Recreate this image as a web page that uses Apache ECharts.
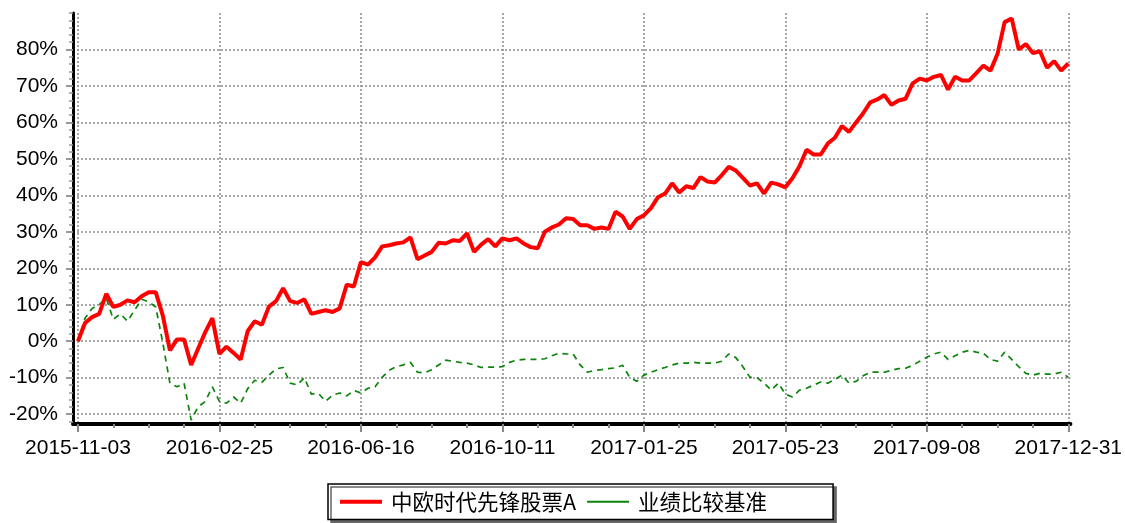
<!DOCTYPE html>
<html>
<head>
<meta charset="utf-8">
<script src="https://cdn.jsdelivr.net/npm/echarts@6/dist/echarts.min.js"></script>
<style>
html,body{margin:0;padding:0;background:#fff;}
#main{width:1125px;height:523px;}
</style>
</head>
<body>
<div id="main"></div>
<script>
// 坐标轴标签
var dateLabels = ['2015-11-03','2016-02-25','2016-06-16','2016-10-11','2017-01-25','2017-05-23','2017-09-08','2017-12-31'];
var yTicks = [-20,-10,0,10,20,30,40,50,60,70,80];

var fundName = '中欧时代先锋股票A';
var benchName = '业绩比较基准';

// 累计收益率(%)
var fundData = [
    0,5,6.6,7.5,13,9.4,10,11.2,10.7,12.3,
    13.4,13.4,7,-2.5,0.5,0.5,-6.5,-2,2.5,6.3,
    -3.5,-1.5,-3.2,-5,2.8,5.5,4.5,9.5,11,14.5,
    11,10.5,11.5,7.5,8,8.5,8,9,15.5,15,
    21.7,21,23,26,26.3,26.8,27.1,28.5,22.5,23.5,
    24.5,27,26.8,27.7,27.5,29.6,24.5,26.5,28,26,
    28.2,27.7,28.2,26.8,25.8,25.5,30,31.2,32,33.7,
    33.5,31.8,31.8,30.8,31.2,30.8,35.5,34.2,30.8,33.5,
    34.5,36.5,39.5,40.5,43.3,40.8,42.5,42,45,43.8,
    43.5,45.5,47.8,46.8,44.8,42.7,43.3,40.5,43.5,43,
    42.2,44.7,48,52.5,51.2,51.2,54.2,55.8,59,57.4,
    60,62.5,65.5,66.3,67.5,64.8,66,66.5,70.7,72,
    71.5,72.5,73,69,72.5,71.5,71.5,73.5,75.6,74.2,
    78.8,87.5,88.5,80,81.5,79,79.5,75,76.8,74.2,
    76.2
];
var benchData = [
    0,6.3,9,10,11.8,6,7.5,5.5,8.5,11.5,
    10.8,9.4,-0.5,-11.5,-12.5,-11.5,-21.6,-18,-16.5,-12.5,
    -16.5,-17,-15.3,-17,-13,-10.7,-11.3,-9.3,-7.6,-7.2,
    -11.5,-12,-10,-14.5,-14.3,-16.5,-14.8,-14.2,-15,-13.5,
    -14.2,-12.9,-12.5,-9.9,-8,-7,-6.5,-5.8,-8.5,-8.7,
    -7.8,-6.5,-5.2,-5.5,-5.8,-6,-6.5,-7.2,-7.1,-7.1,
    -7,-5.8,-5.2,-5,-5,-5,-4.8,-4,-3.3,-3.5,
    -3.5,-6.5,-8.5,-8,-7.8,-7.5,-7.3,-6.6,-9.9,-11,
    -9.3,-8.5,-7.8,-7.2,-6.5,-6,-6,-5.8,-6,-6,
    -6,-5.5,-3.5,-4.5,-7,-9.9,-10,-11.5,-13.4,-11.5,
    -14.5,-15.3,-13.4,-12.9,-12,-11.2,-11.5,-10.5,-9.3,-11.5,
    -11,-9.5,-8.5,-8.5,-8.5,-8,-7.5,-7.4,-6.6,-5.5,
    -4.4,-3.5,-3,-5,-4,-3,-2.5,-3,-3.3,-5,
    -5.5,-3,-5,-7,-8.8,-9.3,-8.8,-9,-9,-8.5,
    -9.9
];

var step = (fundData.length - 1) / (dateLabels.length - 1);
var xMajor = dateLabels.map(function (d, i) { return i * step; });
var xMinor = [];
for (var k = 0; k <= fundData.length - 1; k += step / 4) { xMinor.push(k); }
var yMinor = [];
for (var m = -22; m <= 90; m += 2) { yMinor.push(m); }

var myChart = echarts.init(document.getElementById('main'));
var axisFont = { fontSize: 21, color: '#000', fontFamily: '"Liberation Sans", Arial, sans-serif' };
var dotted = { color: '#8c8c8c', width: 1.5, type: [2, 2] };

option = {
    animation: false,
    backgroundColor: '#fff',
    grid: { left: 73, right: 54, top: 13, bottom: 99 },
    legend: {
        left: 328,
        top: 484,
        padding: [7, 66, 7, 10],
        itemWidth: 42,
        itemHeight: 16,
        itemGap: 10,
        borderColor: '#000',
        borderWidth: 1.5,
        borderRadius: 0,
        backgroundColor: '#fff',
        shadowColor: '#666',
        shadowOffsetX: 3,
        shadowOffsetY: 3,
        shadowBlur: 0,
        itemStyle: { opacity: 0 },
        lineStyle: { type: 'solid' },
        textStyle: { fontSize: 21.5, color: '#000', padding: [0, 0, 0, 4], fontFamily: '"Noto Sans CJK SC", sans-serif' },
        data: [
            { name: fundName, lineStyle: { width: 4 } },
            { name: benchName, lineStyle: { type: 'solid', width: 2 } }
        ]
    },
    xAxis: [
        {
            type: 'value',
            min: -0.7,
            max: 140.3,
            axisLine: { onZero: false, lineStyle: { color: '#000', width: 4 } },
            axisTick: { customValues: xMajor, length: 8, lineStyle: { color: '#888', width: 2 } },
            axisLabel: {
                customValues: xMajor,
                margin: 14,
                formatter: function (v) { return dateLabels[Math.round(v / step)]; },
                fontSize: axisFont.fontSize, color: axisFont.color, fontFamily: axisFont.fontFamily
            },
            splitLine: { show: true, lineStyle: dotted }
        },
        {
            type: 'value',
            position: 'bottom',
            min: -0.7,
            max: 140.3,
            axisLine: { show: false, onZero: false },
            axisTick: { customValues: xMinor, length: 4, lineStyle: { color: '#888', width: 2 } },
            axisLabel: { show: false },
            splitLine: { show: false }
        }
    ],
    yAxis: [
        {
            type: 'value',
            min: -22.7,
            max: 90,
            axisLine: { show: true, onZero: false, lineStyle: { color: '#000', width: 3 } },
            axisTick: { show: true, customValues: yTicks, length: 7, lineStyle: { color: '#777', width: 1.5 } },
            axisLabel: {
                customValues: yTicks,
                margin: 15,
                formatter: '{value}%',
                fontSize: axisFont.fontSize, color: axisFont.color, fontFamily: axisFont.fontFamily
            },
            splitLine: { show: true, lineStyle: dotted }
        },
        {
            type: 'value',
            position: 'left',
            min: -22.7,
            max: 90,
            axisLine: { show: false, onZero: false },
            axisTick: { show: true, customValues: yMinor, length: 4, lineStyle: { color: '#999', width: 1.5 } },
            axisLabel: { show: false },
            splitLine: { show: false }
        }
    ],
    series: [
        {
            name: fundName,
            type: 'line',
            showSymbol: false,
            symbol: 'none',
            z: 3,
            data: fundData.map(function (v, i) { return [i, v]; }),
            lineStyle: { color: '#ff0000', width: 4 },
            itemStyle: { color: '#ff0000' }
        },
        {
            name: benchName,
            type: 'line',
            showSymbol: false,
            symbol: 'none',
            z: 2,
            data: benchData.map(function (v, i) { return [i, v]; }),
            lineStyle: { color: '#0a840a', width: 1.7, type: [6, 5] },
            itemStyle: { color: '#0a840a' }
        }
    ]
};
myChart.setOption(option, true);
</script>
</body>
</html>
